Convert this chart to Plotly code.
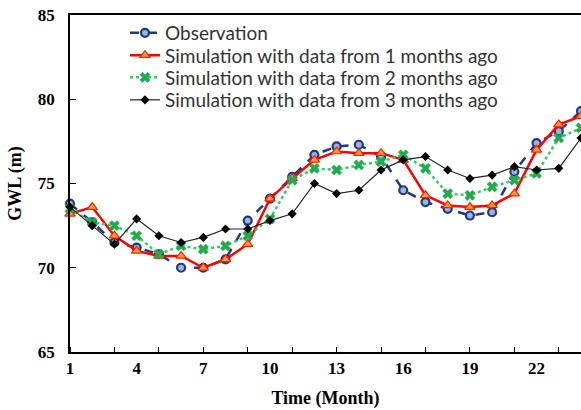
import plotly.graph_objects as go

months = list(range(1, 25))
observation = [73.8, 72.7, 71.5, 71.2, 70.8, 70.0, 70.0, 70.5, 72.8, 74.1, 75.4, 76.7,
               77.2, 77.3, 76.6, 74.6, 73.9, 73.5, 73.1, 73.3, 75.7, 77.4, 78.1, 79.3]
sim_1m = [73.2, 73.6, 71.9, 71.0, 70.7, 70.7, 70.0, 70.5, 71.4, 74.1, 75.3, 76.4,
          76.9, 76.8, 76.8, 76.4, 74.3, 73.7, 73.6, 73.7, 74.4, 77.0, 78.5, 79.0]
sim_2m = [73.5, 72.7, 72.5, 71.9, 70.8, 71.3, 71.1, 71.3, 71.9, 72.9, 75.2, 75.9,
          75.8, 76.1, 76.3, 76.7, 75.9, 74.4, 74.3, 74.8, 75.2, 75.6, 77.7, 78.3]
sim_3m = [73.6, 72.5, 71.4, 72.9, 71.9, 71.5, 71.8, 72.3, 72.3, 72.8, 73.2, 75.0,
          74.4, 74.6, 75.8, 76.4, 76.6, 75.8, 75.3, 75.5, 76.0, 75.8, 75.9, 77.7]

names = ["Observation",
         "Simulation with data from 1 months ago",
         "Simulation with data from 2 months ago",
         "Simulation with data from 3 months ago"]
x_tickvals = [1, 4, 7, 10, 13, 16, 19, 22]
x_minor_ticks = list(range(1, 25, 2))
y_tickvals = [65, 70, 75, 80, 85]

fig = go.Figure()
fig.add_trace(go.Scatter(
    x=months, y=observation, name=names[0], mode="lines+markers", cliponaxis=False,
    legend="legend",
    line=dict(color="#1F3A7A", width=2.5, dash="dash"),
    marker=dict(symbol="circle", size=8, color="#9DB4E0", line=dict(color="#1F3A7A", width=2.2))))
fig.add_trace(go.Scatter(
    x=months, y=sim_1m, name=names[1], mode="lines+markers", cliponaxis=False,
    legend="legend2",
    line=dict(color="#FF0000", width=2.5),
    marker=dict(symbol="triangle-up", size=9, color="#FF9A3C", line=dict(color="#FF2000", width=1.2))))
fig.add_trace(go.Scatter(
    x=months, y=sim_2m, name=names[2], mode="lines+markers", cliponaxis=False,
    legend="legend3",
    line=dict(color="#33CC66", width=2.5, dash="dot"),
    marker=dict(symbol="x", size=9, color="#22AA4C", line=dict(color="#22AA4C", width=0.5))))
fig.add_trace(go.Scatter(
    x=months, y=sim_3m, name=names[3], mode="lines+markers", cliponaxis=False,
    legend="legend4",
    line=dict(color="#222222", width=1.2),
    marker=dict(symbol="diamond", size=7, color="#000000")))

serif = "Liberation Serif"
legend_font = dict(family="Lato", size=19, color="#333333")


def leg(ypos):
    return dict(x=0.1076, y=ypos, xanchor="left", yanchor="middle",
                bgcolor="rgba(0,0,0,0)", borderwidth=0, font=legend_font, itemwidth=30)


fig.update_layout(
    width=581, height=410,
    margin=dict(l=70, r=0, t=15, b=58),
    paper_bgcolor="white", plot_bgcolor="white",
    showlegend=True,
    legend=leg(0.9466), legend2=leg(0.8804), legend3=leg(0.8145), legend4=leg(0.7478),
    xaxis=dict(range=[1, 24], tickmode="array", tickvals=x_tickvals,
               ticktext=[str(v) for v in x_tickvals], ticks="", automargin=False,
               showline=True, linecolor="black", linewidth=1.5, mirror=True,
               showgrid=False, zeroline=False,
               minor=dict(tickmode="array", tickvals=x_minor_ticks, ticks="inside",
                          ticklen=5, tickcolor="black", tickwidth=1),
               tickfont=dict(family=serif, size=17, color="black", weight="bold"),
               title=dict(text="Time (Month)", standoff=14,
                          font=dict(family=serif, size=18, color="black", weight="bold"))),
    yaxis=dict(range=[65, 85], tickmode="array", tickvals=y_tickvals, automargin=False,
               ticks="inside", ticklen=6, tickcolor="black", tickwidth=1,
               showline=True, linecolor="black", linewidth=1.5,
               showgrid=False, zeroline=False, ticklabelstandoff=10,
               tickfont=dict(family=serif, size=17, color="black", weight="bold"),
               title=dict(text="GWL (m)", standoff=12,
                          font=dict(family=serif, size=18, color="black", weight="bold"))),
)

fig.write_html("out.html", config={"displayModeBar": False},
               post_script="document.body.style.margin='0';")
